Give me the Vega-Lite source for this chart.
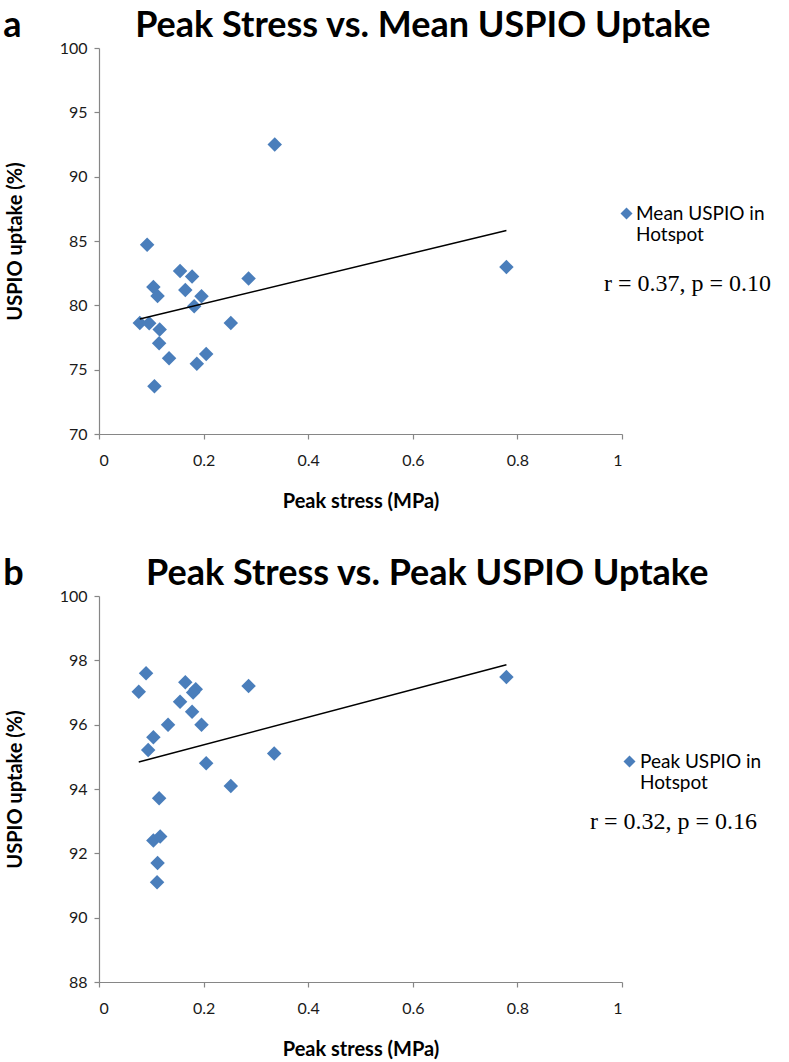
{
  "$schema": "https://vega.github.io/schema/vega-lite/v6.json",
  "background": "white",
  "padding": {"left": 3, "top": 8, "right": 0, "bottom": 5},
  "autosize": {"type": "pad"},
  "datasets": {
    "meanA": [
      {"stress": 0.336, "uptake": 92.5, "series": "Mean USPIO in|Hotspot"},
      {"stress": 0.092, "uptake": 84.7, "series": "Mean USPIO in|Hotspot"},
      {"stress": 0.155, "uptake": 82.66, "series": "Mean USPIO in|Hotspot"},
      {"stress": 0.178, "uptake": 82.25, "series": "Mean USPIO in|Hotspot"},
      {"stress": 0.286, "uptake": 82.09, "series": "Mean USPIO in|Hotspot"},
      {"stress": 0.104, "uptake": 81.42, "series": "Mean USPIO in|Hotspot"},
      {"stress": 0.165, "uptake": 81.19, "series": "Mean USPIO in|Hotspot"},
      {"stress": 0.112, "uptake": 80.72, "series": "Mean USPIO in|Hotspot"},
      {"stress": 0.196, "uptake": 80.7, "series": "Mean USPIO in|Hotspot"},
      {"stress": 0.182, "uptake": 79.92, "series": "Mean USPIO in|Hotspot"},
      {"stress": 0.078, "uptake": 78.62, "series": "Mean USPIO in|Hotspot"},
      {"stress": 0.096, "uptake": 78.6, "series": "Mean USPIO in|Hotspot"},
      {"stress": 0.252, "uptake": 78.62, "series": "Mean USPIO in|Hotspot"},
      {"stress": 0.116, "uptake": 78.12, "series": "Mean USPIO in|Hotspot"},
      {"stress": 0.115, "uptake": 77.05, "series": "Mean USPIO in|Hotspot"},
      {"stress": 0.134, "uptake": 75.89, "series": "Mean USPIO in|Hotspot"},
      {"stress": 0.205, "uptake": 76.22, "series": "Mean USPIO in|Hotspot"},
      {"stress": 0.187, "uptake": 75.46, "series": "Mean USPIO in|Hotspot"},
      {"stress": 0.106, "uptake": 73.72, "series": "Mean USPIO in|Hotspot"},
      {"stress": 0.779, "uptake": 82.97, "series": "Mean USPIO in|Hotspot"}
    ],
    "trendA": [
      {"stress": 0.078, "uptake": 78.93},
      {"stress": 0.779, "uptake": 85.82}
    ],
    "peakB": [
      {"stress": 0.090, "uptake": 97.6, "series": "Peak USPIO in|Hotspot"},
      {"stress": 0.076, "uptake": 97.02, "series": "Peak USPIO in|Hotspot"},
      {"stress": 0.165, "uptake": 97.32, "series": "Peak USPIO in|Hotspot"},
      {"stress": 0.185, "uptake": 97.1, "series": "Peak USPIO in|Hotspot"},
      {"stress": 0.180, "uptake": 97.0, "series": "Peak USPIO in|Hotspot"},
      {"stress": 0.286, "uptake": 97.2, "series": "Peak USPIO in|Hotspot"},
      {"stress": 0.155, "uptake": 96.71, "series": "Peak USPIO in|Hotspot"},
      {"stress": 0.178, "uptake": 96.4, "series": "Peak USPIO in|Hotspot"},
      {"stress": 0.132, "uptake": 96.0, "series": "Peak USPIO in|Hotspot"},
      {"stress": 0.196, "uptake": 96.0, "series": "Peak USPIO in|Hotspot"},
      {"stress": 0.104, "uptake": 95.61, "series": "Peak USPIO in|Hotspot"},
      {"stress": 0.094, "uptake": 95.21, "series": "Peak USPIO in|Hotspot"},
      {"stress": 0.335, "uptake": 95.1, "series": "Peak USPIO in|Hotspot"},
      {"stress": 0.205, "uptake": 94.8, "series": "Peak USPIO in|Hotspot"},
      {"stress": 0.252, "uptake": 94.09, "series": "Peak USPIO in|Hotspot"},
      {"stress": 0.115, "uptake": 93.71, "series": "Peak USPIO in|Hotspot"},
      {"stress": 0.104, "uptake": 92.4, "series": "Peak USPIO in|Hotspot"},
      {"stress": 0.117, "uptake": 92.52, "series": "Peak USPIO in|Hotspot"},
      {"stress": 0.112, "uptake": 91.7, "series": "Peak USPIO in|Hotspot"},
      {"stress": 0.111, "uptake": 91.1, "series": "Peak USPIO in|Hotspot"},
      {"stress": 0.779, "uptake": 97.48, "series": "Peak USPIO in|Hotspot"}
    ],
    "trendB": [
      {"stress": 0.076, "uptake": 94.84},
      {"stress": 0.779, "uptake": 97.86}
    ]
  },
  "config": {
    "view": {"stroke": null},
    "font": "Lato",
    "axis": {
      "grid": false,
      "domainColor": "#868686",
      "tickColor": "#868686",
      "domainWidth": 1.2,
      "tickWidth": 1.2,
      "tickSize": 5,
      "labelFont": "Lato",
      "labelFontSize": 16,
      "labelColor": "#1a1a1a",
      "titleFont": "Lato",
      "titleFontSize": 20,
      "titleFontWeight": "bold",
      "titleColor": "#000000"
    },
    "axisX": {"labelPadding": 13, "titlePadding": 23},
    "axisY": {"labelPadding": 7, "titlePadding": 34},
    "title": {"font": "Lato", "fontWeight": "bold", "color": "#000000"}
  },
  "resolve": {"scale": {"color": "independent"}, "legend": {"color": "independent"}},
  "spacing": 45,
  "vconcat": [
    {
      "width": 523,
      "height": 386,
      "title": {"text": "a\u00a0\u00a0\u00a0\u00a0\u00a0\u00a0\u00a0\u00a0\u00a0\u00a0\u00a0\u00a0\u00a0Peak Stress vs. Mean USPIO Uptake", "fontSize": 36, "anchor": "start", "frame": "bounds", "offset": -33, "baseline": "alphabetic", "dx": -2},
      "layer": [
        {
          "data": {"name": "meanA"},
          "mark": {"type": "point", "shape": "diamond", "filled": true, "size": 210, "opacity": 1},
          "encoding": {
            "x": {"field": "stress", "type": "quantitative", "scale": {"domain": [0, 1]}, "axis": {"values": [0, 0.2, 0.4, 0.6, 0.8, 1], "format": "~g", "title": "Peak stress (MPa)"}},
            "y": {"field": "uptake", "type": "quantitative", "scale": {"domain": [70, 100]}, "axis": {"values": [70, 75, 80, 85, 90, 95, 100], "title": "USPIO uptake (%)"}},
            "color": {
              "field": "series", "type": "nominal",
              "scale": {"range": ["#4A7EBB"]},
              "legend": {
                "title": "r = 0.37, p = 0.10",
                "orient": "none", "legendX": 505, "legendY": 156,
                "titleOrient": "bottom", "titleAnchor": "start",
                "titleFont": "Liberation Serif", "titleFontSize": 24, "titleFontWeight": "normal", "titleColor": "#000000", "titlePadding": 27,
                "symbolType": "diamond", "symbolSize": 144, "symbolOffset": 13, "symbolStrokeWidth": 0,
                "labelFont": "Lato", "labelFontSize": 19, "labelColor": "#000000", "labelOffset": 0, "labelLimit": 300,
                "labelExpr": "split(datum.label, '|')",
                "padding": 0
              }
            }
          }
        },
        {
          "data": {"name": "trendA"},
          "mark": {"type": "line", "color": "#000000", "strokeWidth": 1.5},
          "encoding": {
            "x": {"field": "stress", "type": "quantitative"},
            "y": {"field": "uptake", "type": "quantitative"}
          }
        }
      ]
    },
    {
      "width": 523,
      "height": 386,
      "title": {"text": "b\u00a0\u00a0\u00a0\u00a0\u00a0\u00a0\u00a0\u00a0\u00a0\u00a0\u00a0\u00a0\u00a0\u00a0Peak Stress vs. Peak USPIO Uptake", "fontSize": 36, "anchor": "start", "frame": "bounds", "offset": -33, "baseline": "alphabetic", "dx": -2},
      "layer": [
        {
          "data": {"name": "peakB"},
          "mark": {"type": "point", "shape": "diamond", "filled": true, "size": 210, "opacity": 1},
          "encoding": {
            "x": {"field": "stress", "type": "quantitative", "scale": {"domain": [0, 1]}, "axis": {"values": [0, 0.2, 0.4, 0.6, 0.8, 1], "format": "~g", "title": "Peak stress (MPa)"}},
            "y": {"field": "uptake", "type": "quantitative", "scale": {"domain": [88, 100]}, "axis": {"values": [88, 90, 92, 94, 96, 98, 100], "title": "USPIO uptake (%)"}},
            "color": {
              "field": "series", "type": "nominal",
              "scale": {"range": ["#4A7EBB"]},
              "legend": {
                "title": "r = 0.32, p = 0.16",
                "orient": "none", "legendX": 491, "legendY": 156,
                "titleOrient": "bottom", "titleAnchor": "start",
                "titleFont": "Liberation Serif", "titleFontSize": 24, "titleFontWeight": "normal", "titleColor": "#000000", "titlePadding": 17,
                "symbolType": "diamond", "symbolSize": 144, "symbolOffset": 30, "symbolStrokeWidth": 0,
                "labelFont": "Lato", "labelFontSize": 19, "labelColor": "#000000", "labelOffset": 1, "labelLimit": 300,
                "labelExpr": "split(datum.label, '|')",
                "padding": 0
              }
            }
          }
        },
        {
          "data": {"name": "trendB"},
          "mark": {"type": "line", "color": "#000000", "strokeWidth": 1.5},
          "encoding": {
            "x": {"field": "stress", "type": "quantitative"},
            "y": {"field": "uptake", "type": "quantitative"}
          }
        }
      ]
    }
  ]
}
